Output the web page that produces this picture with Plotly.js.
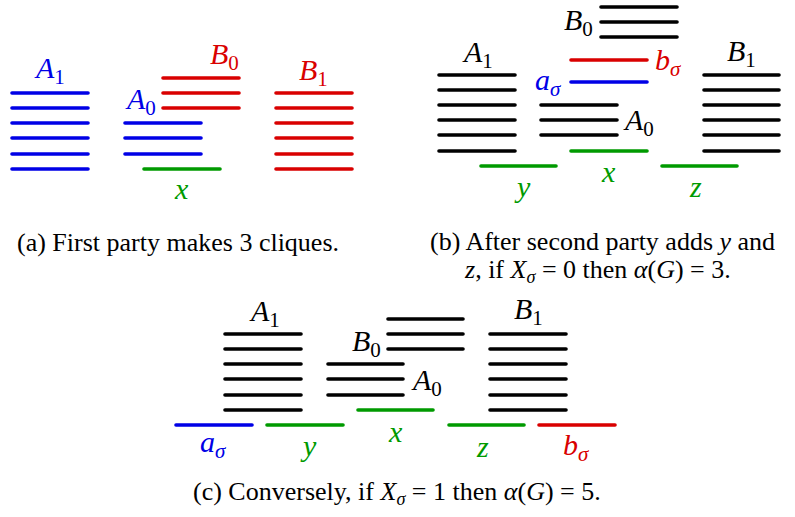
<!DOCTYPE html>
<html><head><meta charset="utf-8">
<script src="https://cdn.plot.ly/plotly-3.0.1.min.js"></script>
<style>html,body{margin:0;padding:0;background:#fff}#chart{width:795px;height:517px}
#chart path.js-line{stroke-linecap:round}</style>
</head><body><div id="chart"></div>
<script>
// Segments (pixel-space data units): start, end, level, colour group
const segStart = [
  // panel a
  12,12,12,12,12,12, 163,163,163, 125,125,125, 144, 276,276,276,276,276,276,
  // panel b
  439,439,439,439,439,439, 541,541,541, 601,601,601, 571, 571, 571, 481, 662, 704,704,704,704,704,704,
  // panel c
  225,225,225,225,225,225, 388,388,388, 328,328,328, 358, 176, 267, 449, 539, 490,490,490,490,490,490
];
const segEnd = [
  88,88,88,88,88,88, 239,239,239, 201,201,201, 220, 352,352,352,352,352,352,
  515,515,515,515,515,515, 617,617,617, 677,677,677, 647, 647, 647, 556, 737, 779,779,779,779,779,779,
  301,301,301,301,301,301, 463,463,463, 403,403,403, 433, 252, 343, 524, 615, 566,566,566,566,566,566
];
const segLevel = [
  93,108,123,138,154,169, 78,93,108, 123,138,154, 169, 93,108,123,138,154,169,
  75,90,105,120,135,151, 105,120,135, 7,22,37, 60, 82, 151, 166, 166, 75,90,105,120,135,151,
  334,349,364,379,395,410, 319,334,349, 364,379,395, 410, 425, 425, 425, 425, 334,349,364,379,395,410
];
const segGroup = [
  'blue','blue','blue','blue','blue','blue','red','red','red','blue','blue','blue','green','red','red','red','red','red','red',
  'black','black','black','black','black','black','black','black','black','black','black','black','red','blue','green','green','green','black','black','black','black','black','black',
  'black','black','black','black','black','black','black','black','black','black','black','black','green','blue','green','green','red','black','black','black','black','black','black'
];
const groupColor = {blue:'#0000e6', red:'#d90000', green:'#009a00', black:'#000000'};

// Labels: text, x, y, colour group
const labelText = [
  '<i>A</i><sub>1</sub>','<i>B</i><sub>0</sub>','<i>A</i><sub>0</sub>','<i>B</i><sub>1</sub>','<i>x</i>',
  '<i>B</i><sub>0</sub>','<i>A</i><sub>1</sub>','<i>b</i><sub><i>σ</i></sub>','<i>a</i><sub><i>σ</i></sub>','<i>A</i><sub>0</sub>','<i>B</i><sub>1</sub>','<i>y</i>','<i>x</i>','<i>z</i>',
  '<i>A</i><sub>1</sub>','<i>B</i><sub>0</sub>','<i>A</i><sub>0</sub>','<i>B</i><sub>1</sub>','<i>a</i><sub><i>σ</i></sub>','<i>y</i>','<i>x</i>','<i>z</i>','<i>b</i><sub><i>σ</i></sub>'
];
const labelX = [49,224,140,313,181, 578,477,668,548,638,741,522,608,695, 264,366,426,528,213,308,395,482,576];
const labelY = [70,56,101,72,188, 22,54,62,82,122,53,186,171,186, 313,343,382,311,444,445,431,446,447];
const labelGroup = ['blue','red','blue','red','green','black','black','red','blue','black','black','green','green','green',
  'black','black','black','black','blue','green','green','green','red'];

const captionText = [
  '(a) First party makes 3 cliques.',
  '(b) After second party adds <i>y</i> and',
  '<i>z</i>, if <i>X</i><sub><i>σ</i></sub> = 0 then <i>α</i>(<i>G</i>) = 3.',
  '(c) Conversely, if <i>X</i><sub><i>σ</i></sub> = 1 then <i>α</i>(<i>G</i>) = 5.'
];
const captionX = [178, 602, 597, 397];
const captionY = [242, 241, 271, 493];

const traces = [];
Object.keys(groupColor).forEach(g => {
  const xs = [], ys = [];
  segStart.forEach((s, i) => {
    if (segGroup[i] !== g) return;
    xs.push(s, segEnd[i], null);
    ys.push(segLevel[i], segLevel[i], null);
  });
  traces.push({x: xs, y: ys, mode: 'lines', type: 'scatter', hoverinfo: 'skip',
    line: {color: groupColor[g], width: 3.6}, showlegend: false});
});

const annotations = [];
labelText.forEach((t, i) => annotations.push({
  x: labelX[i], y: labelY[i], xref: 'x', yref: 'y', text: t, showarrow: false,
  font: {family: 'Liberation Serif, serif', size: 30, color: groupColor[labelGroup[i]]}
}));
captionText.forEach((t, i) => annotations.push({
  x: captionX[i], y: captionY[i], xref: 'x', yref: 'y', text: t, showarrow: false,
  font: {family: 'Liberation Serif, serif', size: 26, color: '#000'}
}));

Plotly.newPlot('chart', traces, {
  width: 795, height: 517, margin: {l: 0, r: 0, t: 0, b: 0},
  paper_bgcolor: '#fff', plot_bgcolor: '#fff',
  xaxis: {range: [0, 795], visible: false, fixedrange: true},
  yaxis: {range: [517, 0], visible: false, fixedrange: true},
  annotations: annotations, showlegend: false
}, {displayModeBar: false, staticPlot: true});
</script></body></html>
